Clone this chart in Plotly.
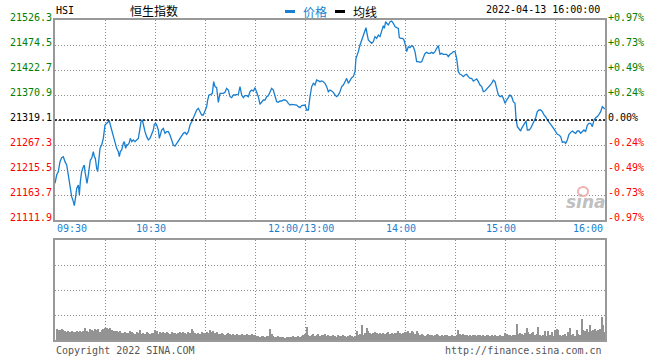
import plotly.graph_objects as go

# ---------------- data ----------------
prev_close = 21319.1
y_ticks = [21111.9, 21163.7, 21215.5, 21267.3, 21319.1, 21370.9, 21422.7, 21474.5, 21526.3]

# trading minutes since 09:30 (lunch break removed; 150 = 12:00/13:00, 330 = 16:00)
minute = [
    0, 1, 2, 3, 4, 5, 6, 7, 8, 9,
    10, 11, 11.6, 12.4, 13, 14, 14.6, 15.2, 16, 17,
    17.6, 18, 18.6, 19.2, 20, 20.6, 21.2, 22, 23, 23.6,
    24.2, 25, 25.6, 26.2, 27, 28, 29, 30, 31, 32,
    32.6, 33.2, 34, 35, 36, 37, 38, 38.6, 39.2, 40,
    41, 41.6, 42.4, 43, 43.6, 44.4, 45.2, 46, 47, 48,
    49, 50, 51, 51.6, 52.4, 53, 54, 55, 56, 57,
    58, 59, 59.6, 60.4, 61, 62, 62.6, 63.2, 64, 65,
    66, 67, 68, 69, 70, 71, 72, 73, 74, 75,
    76, 77, 78, 79, 80, 81, 82, 83, 84, 85,
    86, 87, 88, 89, 90, 91, 91.6, 92.4, 93.6, 94.4,
    95.2, 96, 97, 98, 99, 100, 101, 102, 103, 104,
    105, 106, 107, 108, 109, 110, 111, 112, 113, 114,
    115, 116, 117, 118, 119, 120, 121, 122, 123, 124,
    125, 126, 127, 128, 129, 130, 131, 132, 133, 134,
    135, 136, 137, 138, 139, 140, 141, 142, 143, 144,
    145, 146, 147, 148, 149, 150, 151, 152, 153, 154,
    155, 156, 157, 158, 159, 160, 161, 162, 163, 164,
    165, 166, 167, 168, 169, 170, 171, 172, 173, 174,
    175, 176, 177, 178, 179, 180, 180.6, 181.4, 182, 183,
    184, 185, 186, 186.6, 187.4, 188, 189, 190, 191, 192,
    193, 194, 195, 196, 197, 197.6, 198.4, 199, 200, 201,
    202, 203, 204, 205, 206, 206.6, 207.4, 208.6, 209.4, 210.2,
    211, 212, 213, 214, 215, 216, 217, 218, 219, 220,
    221, 222, 223, 224, 225, 226, 227, 228, 229, 230,
    231, 232, 233, 234, 235, 236, 237, 238, 239, 240,
    241, 242, 243, 244, 245, 246, 247, 248, 249, 250,
    251, 252, 253, 254, 255, 256, 257, 258, 259, 260,
    261, 262, 263, 264, 265, 266, 267, 268, 269, 270,
    271, 272, 273, 274, 275, 276, 276.6, 277.4, 278.4, 279.4,
    280, 281, 282, 282.6, 283.4, 284.4, 285.4, 286.4, 287.4, 288.4,
    289.4, 290.4, 291.4, 292.4, 293.4, 294.4, 295.4, 296.4, 297.4, 298.4,
    299.4, 300.4, 301.4, 302.4, 303.4, 304.4, 305.4, 306.4, 307.4, 308.4,
    309.4, 310.4, 311.4, 312.4, 313.4, 314.4, 315.4, 316.4, 317.4, 318.4,
    319.4, 320.4, 321.4, 322.4, 323.4, 324.4, 325.4, 326.4, 327.4, 328.4,
    329.4, 330,
]

price = [
    21187.9, 21205.1, 21212.1, 21232.8, 21241.1, 21243.1, 21232.8, 21225.9, 21205.1, 21177.5,
    21160.3, 21149.9, 21141.6, 21160.3, 21177.5, 21184.4, 21163.7, 21191.3, 21212.1, 21222.4,
    21225.9, 21212.1, 21198.2, 21187.9, 21205.1, 21219.0, 21236.2, 21239.7, 21253.5, 21243.1,
    21239.7, 21219.0, 21212.1, 21232.8, 21260.4, 21267.3, 21281.1, 21308.7, 21312.2, 21317.0,
    21317.7, 21308.7, 21298.4, 21288.0, 21274.2, 21260.4, 21253.5, 21243.1, 21253.5, 21256.9,
    21270.8, 21274.2, 21260.4, 21267.3, 21267.3, 21270.8, 21281.1, 21274.2, 21277.7, 21274.2,
    21277.7, 21281.1, 21301.8, 21315.6, 21319.1, 21308.7, 21294.9, 21284.6, 21277.7, 21281.1,
    21291.5, 21298.4, 21310.1, 21312.2, 21308.7, 21298.4, 21281.1, 21291.5, 21298.4, 21301.8,
    21291.5, 21294.9, 21294.9, 21288.0, 21277.7, 21267.3, 21265.2, 21270.8, 21277.7, 21282.5,
    21288.0, 21291.5, 21293.5, 21289.4, 21294.9, 21308.7, 21315.6, 21322.6, 21332.9, 21339.8,
    21343.3, 21336.4, 21329.5, 21329.5, 21336.4, 21346.7, 21360.5, 21370.9, 21372.3, 21374.4,
    21398.5, 21388.2, 21386.1, 21355.7, 21374.4, 21374.4, 21374.4, 21376.4, 21384.7, 21381.3,
    21367.4, 21365.4, 21370.9, 21370.9, 21372.3, 21372.3, 21388.2, 21370.9, 21365.4, 21369.5,
    21369.5, 21367.4, 21377.8, 21381.3, 21379.2, 21386.1, 21376.4, 21367.4, 21351.6, 21357.1,
    21360.5, 21360.5, 21367.4, 21369.5, 21377.8, 21384.7, 21381.3, 21370.9, 21357.1, 21355.7,
    21358.5, 21358.5, 21360.5, 21360.5, 21358.5, 21353.6, 21350.2, 21351.6, 21351.6, 21350.2,
    21350.2, 21346.7, 21344.7, 21348.8, 21350.2, 21350.2, 21339.8, 21339.8, 21367.4, 21388.2,
    21395.1, 21391.6, 21402.0, 21399.9, 21398.5, 21399.9, 21398.5, 21395.1, 21388.2, 21377.8,
    21381.3, 21379.2, 21376.4, 21370.9, 21367.4, 21370.9, 21377.8, 21388.2, 21391.6, 21398.5,
    21405.4, 21395.1, 21402.0, 21406.8, 21408.9, 21419.2, 21446.9, 21453.8, 21460.7, 21474.5,
    21484.9, 21495.2, 21509.0, 21510.4, 21495.2, 21484.9, 21481.4, 21478.0, 21481.4, 21491.8,
    21488.3, 21495.2, 21491.8, 21505.6, 21514.6, 21509.0, 21522.8, 21519.4, 21515.9, 21522.8,
    21524.2, 21519.4, 21512.5, 21510.4, 21509.0, 21489.7, 21488.3, 21488.3, 21484.9, 21474.5,
    21460.7, 21471.0, 21469.0, 21473.1, 21471.0, 21460.7, 21440.0, 21440.0, 21438.6, 21440.0,
    21446.9, 21457.2, 21459.3, 21457.2, 21457.2, 21459.3, 21457.2, 21460.7, 21467.6, 21473.1,
    21455.2, 21457.2, 21455.2, 21455.9, 21455.2, 21450.3, 21455.2, 21457.2, 21460.7, 21460.7,
    21446.9, 21419.2, 21413.7, 21412.3, 21408.9, 21412.3, 21413.7, 21408.9, 21405.4, 21405.4,
    21399.9, 21402.0, 21404.1, 21398.5, 21391.6, 21388.2, 21377.8, 21379.2, 21383.3, 21388.2,
    21390.2, 21395.1, 21402.0, 21398.5, 21384.7, 21370.9, 21367.4, 21369.5, 21364.0, 21353.6,
    21360.5, 21367.4, 21370.9, 21367.4, 21357.1, 21353.6, 21322.6, 21305.3, 21301.8, 21296.3,
    21301.8, 21308.7, 21312.2, 21317.0, 21298.4, 21298.4, 21301.8, 21308.7, 21315.6, 21323.9,
    21336.4, 21339.8, 21339.8, 21336.4, 21329.5, 21326.0, 21319.1, 21315.6, 21310.1, 21305.3,
    21298.4, 21294.9, 21289.4, 21288.0, 21284.6, 21272.8, 21274.2, 21270.8, 21277.7, 21289.4,
    21293.5, 21296.3, 21293.5, 21291.5, 21296.3, 21296.3, 21291.5, 21294.9, 21298.4, 21294.9,
    21308.7, 21312.2, 21312.2, 21305.3, 21319.1, 21323.9, 21326.0, 21330.8, 21336.4, 21346.7,
    21344.7, 21341.9,
]

# per-minute volume (relative units, pane full scale = 100)
volume = [
    11, 10, 10, 11, 10, 9, 8, 9, 8, 9, 8, 8, 9, 8, 9, 8, 9, 12, 9, 8, 11, 10, 9, 11, 10, 11, 8, 10, 11, 12,
    12, 11, 12, 10, 9, 9, 9, 8, 9, 7, 7, 8, 7, 7, 9, 8, 7, 6, 8, 7, 10, 6, 7, 6, 8, 7, 6, 7, 7, 10,
    9, 6, 8, 7, 8, 7, 8, 7, 6, 8, 7, 7, 6, 7, 8, 7, 8, 7, 6, 8, 7, 11, 9, 7, 6, 7, 6, 8, 7, 7,
    8, 7, 10, 8, 9, 7, 8, 6, 6, 7, 6, 5, 6, 7, 6, 5, 6, 5, 6, 5, 5, 6, 5, 5, 6, 5, 5, 6, 5, 5,
    4, 4, 3, 4, 4, 3, 4, 4, 11, 6, 4, 3, 3, 4, 3, 3, 3, 2, 3, 3, 3, 3, 4, 3, 3, 4, 3, 4, 5, 6,
    13, 5, 4, 5, 6, 4, 5, 6, 4, 5, 5, 6, 4, 5, 4, 4, 5, 4, 3, 5, 4, 4, 5, 4, 3, 4, 5, 4, 3, 4,
    9, 5, 6, 15, 5, 7, 12, 9, 7, 6, 7, 8, 7, 6, 7, 6, 7, 6, 7, 8, 6, 7, 6, 7, 7, 9, 7, 6, 7, 8,
    8, 9, 7, 9, 8, 6, 9, 7, 5, 6, 5, 4, 5, 6, 5, 5, 4, 5, 6, 5, 4, 5, 4, 5, 5, 4, 4, 5, 4, 4,
    5, 10, 6, 5, 6, 5, 5, 4, 5, 4, 5, 5, 4, 5, 5, 4, 5, 4, 5, 5, 4, 5, 4, 5, 4, 4, 5, 4, 4, 7,
    6, 5, 5, 4, 5, 5, 16, 6, 7, 6, 5, 7, 12, 8, 6, 7, 8, 5, 6, 13, 5, 4, 5, 9, 4, 9, 5, 8, 4, 10,
    11, 10, 5, 4, 5, 6, 4, 8, 12, 5, 6, 4, 10, 6, 5, 21, 10, 9, 11, 8, 15, 9, 10, 11, 9, 10, 11, 23, 15, 8,
]
vol_minute = list(range(1, len(volume) + 1))

time_ticks = [0, 60, 150, 210, 270, 330]
time_labels = ["09:30", "10:30", "12:00/13:00", "14:00", "15:00", "16:00"]
grid_minutes = [30, 60, 90, 120, 150, 180, 210, 240, 270, 300]

title_code = "HSI"
title_name = "恒生指数"
legend_price = "价格"
legend_avg = "均线"
stamp = "2022-04-13 16:00:00"
footer_left = "Copyright 2022 SINA.COM"
footer_right = "http://finance.sina.com.cn"

# ---------------- styling ----------------
W, H = 660, 360
ML, MR, MT, MB = 55, 55, 20, 20
PW, PH = W - ML - MR, H - MT - MB
MONO = "DejaVu Sans Mono"
CJK = "Noto Sans CJK SC"
BLUE = "#1a7fd0"
GREEN = "#008000"
RED = "#ff0000"
BORDER = "#999999"
GRID = "#8c8c8c"


def px(x):
    return (x - ML) / PW


def py(y):
    return (H - MB - y) / PH


fig = go.Figure()
fig.add_trace(go.Scatter(x=minute, y=price, mode="lines",
                         line=dict(color=BLUE, width=1.3),
                         xaxis="x", yaxis="y", hoverinfo="skip"))
fig.add_trace(go.Bar(x=vol_minute, y=volume, width=0.6,
                     marker=dict(color="#939393", line=dict(width=0)),
                     xaxis="x2", yaxis="y2", hoverinfo="skip"))

axis_common = dict(showgrid=True, gridcolor=GRID, griddash="1px,2px", gridwidth=1,
                   showticklabels=False, ticks="", zeroline=False,
                   showline=True, linecolor=BORDER, linewidth=1.5, mirror=True, fixedrange=True)

fig.update_layout(
    width=W, height=H,
    margin=dict(l=ML, r=MR, t=MT, b=MB),
    paper_bgcolor="white", plot_bgcolor="white",
    showlegend=False,
    bargap=0,
    xaxis=dict(domain=[0, 1], range=[0, 330], tickmode="array", tickvals=grid_minutes,
               anchor="y", **axis_common),
    yaxis=dict(domain=[py(220), 1], range=[y_ticks[0], y_ticks[-1]], tickmode="array",
               tickvals=y_ticks[1:-1], anchor="x", **axis_common),
    xaxis2=dict(domain=[0, 1], range=[0, 330], tickmode="array", tickvals=grid_minutes,
                anchor="y2", **axis_common),
    yaxis2=dict(domain=[0, py(240)], range=[0, 100], tickmode="array",
                tickvals=[25, 50, 75], anchor="x2", **axis_common),
)

shapes = [
    dict(type="line", xref="x", yref="y", x0=0, x1=330, y0=prev_close, y1=prev_close,
         line=dict(color="black", width=1.5, dash="2px,2px")),
    dict(type="rect", xref="paper", yref="paper", x0=px(285), x1=px(295), y0=py(13), y1=py(10),
         fillcolor=BLUE, line=dict(width=0)),
    dict(type="rect", xref="paper", yref="paper", x0=px(335), x1=px(345), y0=py(13), y1=py(10),
         fillcolor="black", line=dict(width=0)),
    dict(type="circle", xref="paper", yref="paper", x0=px(578), x1=px(588), y0=py(196), y1=py(187),
         line=dict(color="#f2b0b0", width=2)),
]

ann = []


def text(t, x, y, color="black", size=10, family=MONO, xanchor="left", **kw):
    d = dict(text=t, x=x, y=y, xref=kw.pop("xref", "paper"), yref=kw.pop("yref", "paper"),
             showarrow=False, xanchor=xanchor, yanchor="middle",
             font=dict(family=family, size=size, color=color))
    d.update(kw)
    ann.append(d)


# header
text(title_code, px(54), py(10))
text(title_name, px(154), py(10), size=12, family=CJK, xanchor="center")
text(legend_price, px(301), py(11), color=BLUE, size=12, family=CJK)
text(legend_avg, px(351), py(11), size=12, family=CJK)
text(stamp, px(602), py(9.5), xanchor="right")

# y labels
for v in y_ticks:
    d = v - prev_close
    col = GREEN if d > 0.05 else (RED if d < -0.05 else "black")
    pct = d / prev_close * 100
    sign = "+" if pct > 0.005 else ("-" if pct < -0.005 else "")
    text(f"{v:.1f}", 0, v, color=col, xanchor="right", yref="y", xshift=-1, yshift=3)
    text(f"{sign}{abs(pct):.2f}%", 1, v, color=col, xanchor="left", yref="y", xshift=1, yshift=3)

# time labels
for m, lab in zip(time_ticks, time_labels):
    xa = "left" if m == time_ticks[0] else ("right" if m == time_ticks[-1] else "center")
    text(lab, m, py(228), color=BLUE, xanchor=xa, xref="x", xshift=(0 if xa != "center" else -4))

# footer
text(footer_left, px(54), py(350), color="#555555")
text(footer_right, px(604), py(350), color="#555555", xanchor="right")

# watermark
text("<b><i>sina</i></b>", px(586), py(202), color="#c0c0c0", size=17,
     family="DejaVu Sans", xanchor="center")

fig.update_layout(annotations=ann, shapes=shapes)
fig.write_html("out.html", config={"displayModeBar": False},
               post_script="document.body.style.margin='0';document.body.style.overflow='hidden';")
